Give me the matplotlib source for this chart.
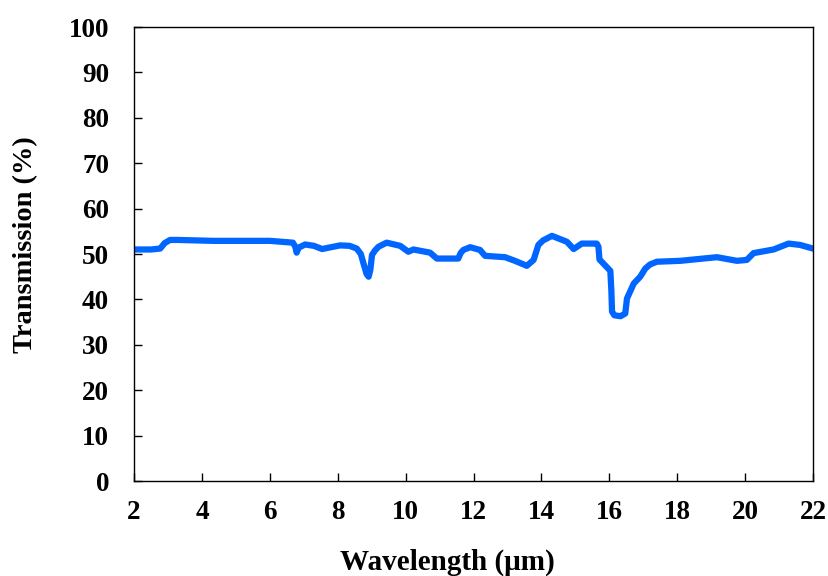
import matplotlib.pyplot as plt

wavelength = [2.0, 2.5, 2.77, 2.9, 3.06, 3.3, 4.33, 6.0, 6.68, 6.75, 6.79, 6.85, 7.04, 7.3,
              7.54, 7.8, 8.07, 8.35, 8.56, 8.68, 8.76, 8.85, 8.91, 8.96, 9.01, 9.1, 9.2,
              9.44, 9.84, 10.08, 10.23, 10.72, 10.92, 11.55, 11.62, 11.7, 11.9, 12.19,
              12.34, 12.93, 13.22, 13.57, 13.77, 13.91, 14.05, 14.31, 14.75, 14.95, 15.19,
              15.63, 15.68, 15.71, 16.03, 16.06, 16.08, 16.15, 16.33, 16.47, 16.52, 16.72,
              16.91, 17.06, 17.2, 17.4, 18.09, 19.17, 19.76, 20.05, 20.25, 20.84, 21.28,
              21.62, 22.0]
transmission = [51.0, 51.0, 51.2, 52.4, 53.1, 53.1, 52.9, 52.9, 52.5, 51.6, 50.3, 51.4, 52.1,
                51.8, 51.1, 51.5, 51.9, 51.8, 51.2, 50.0, 47.9, 45.6, 45.0, 46.5, 49.8, 50.8,
                51.6, 52.5, 51.8, 50.5, 51.0, 50.3, 49.0, 49.0, 50.2, 50.9, 51.5, 50.9,
                49.6, 49.3, 48.5, 47.4, 48.7, 52.0, 53.0, 54.0, 52.7, 51.1, 52.3,
                52.3, 51.6, 48.8, 46.3, 42.0, 37.3, 36.5, 36.3, 36.9, 40.2, 43.5,
                45.0, 46.8, 47.7, 48.3, 48.5, 49.3, 48.5, 48.7, 50.2, 51.0, 52.3,
                52.0, 51.2]

plt.rcParams['font.family'] = ['Liberation Serif', 'DejaVu Serif']
plt.rcParams['font.weight'] = 'bold'

fig = plt.figure(figsize=(8.29, 5.76), dpi=100)
ax = fig.add_axes([0.1617, 0.1649, 0.819, 0.7882])
ax.plot(wavelength, transmission, color='#0066ff', lw=4.5, solid_joinstyle='round', solid_capstyle='round')

ax.set_xlim(2, 22)
ax.set_ylim(0, 100)
ax.set_xticks(range(2, 23, 2))
ax.set_yticks(range(0, 101, 10))
ax.tick_params(direction='in', length=5.5, width=1, labelsize=19.5)
ax.tick_params(axis='y', pad=18)
ax.tick_params(axis='x', pad=14)
for lab in ax.get_xticklabels() + ax.get_yticklabels():
    lab.set_fontweight('bold')

# reference has the x label sitting right at the bottom edge
ax.set_xlabel('Wavelength (\u03bcm)', fontsize=21, fontweight='bold')
ax.xaxis.set_label_coords(0.462, -0.148)
ax.set_ylabel('Transmission (%)', fontsize=20.5, fontweight='bold')
ax.yaxis.set_label_coords(-0.141, 0.52)

for s in ax.spines.values():
    s.set_linewidth(1)

fig.savefig('out.png', dpi=100)
